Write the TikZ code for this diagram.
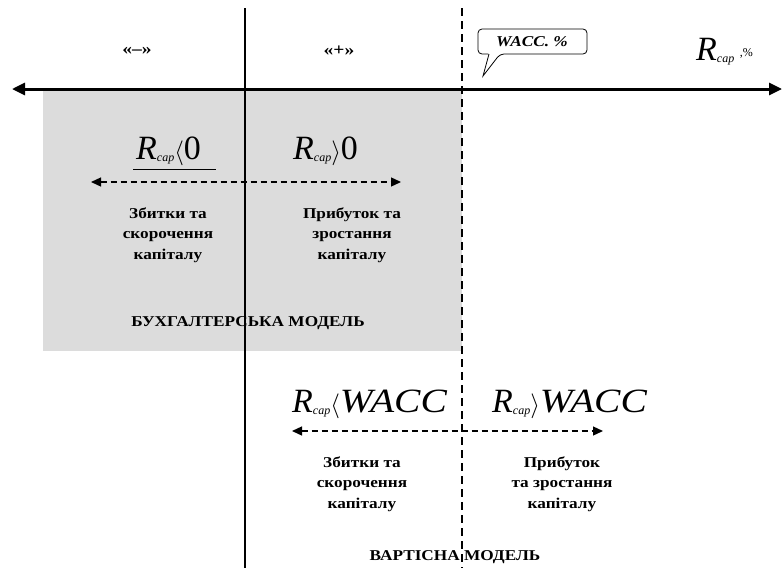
\documentclass[tikz,border=0pt]{standalone}
\usepackage{fontspec}
\usepackage{graphicx}
\setmainfont{Liberation Serif}
\newfontfamily\lblfont[FakeStretch=1.15]{Liberation Serif}
\usetikzlibrary{arrows.meta}
\newcommand\Rc{\textit{R}\raisebox{-2pt}{\fontsize{12}{12}\selectfont\textit{cap}}}
\newcommand\Wc{\scalebox{1.16}[1]{\textit{WACC}}}
\begin{document}
\begin{tikzpicture}[x=1pt,y=-1pt,
  lbl/.style={font=\fontsize{15}{20.5}\lblfont\bfseries, align=center, inner sep=0pt},
  sign/.style={font=\fontsize{17}{17}\lblfont\bfseries, inner sep=0pt},
  big/.style={font=\fontsize{34}{34}\selectfont, inner sep=0pt, anchor=base west},
  axis/.style={line width=3pt, {Triangle[length=13pt,width=12pt]}-{Triangle[length=13pt,width=12pt]}},
  darr/.style={line width=1.3pt, dash pattern=on 6pt off 4pt, {Triangle[length=10pt,width=9pt]}-{Triangle[length=10pt,width=9pt]}},
  vsolid/.style={line width=1.5pt},
  vdash/.style={line width=1.3pt, dash pattern=on 8pt off 5pt}]
\useasboundingbox (0,0) rectangle (782,568);
\fill[fill={rgb,255:red,220;green,220;blue,220}] (43,91) rectangle (462,351);
% vertical lines
\coordinate (vs1) at (245,8); \coordinate (vs2) at (245,568);
\coordinate (vd1) at (462,8); \coordinate (vd2) at (462,568);
\draw[vsolid] (vs1) -- (vs2);
\draw[vdash] (vd1) -- (vd2);
% axis
\coordinate (axL) at (12,89); \coordinate (axR) at (782,89);
\draw[axis] (axL) -- (axR);
% top labels
\node[sign] (minus) at (137,51) {«–»};
\node[sign] (plus) at (339,51) {«+»};
% callout
\draw[line width=0.8pt, rounded corners=4pt] (488,54) -- (478,54) -- (478,29) -- (587,29) -- (587,54) -- (500,54) [sharp corners] -- (483,76) -- (489,54);
\node[font=\fontsize{15}{15}\lblfont\bfseries\itshape] (wacc) at (532,42) {WACC. \%};
\node[big, font=\fontsize{34}{34}\selectfont] (rax) at (696,60) {\Rc\,\raisebox{4pt}{\fontsize{12}{12}\selectfont ,\%}};
% accounting model
\node[big] (rlt0) at (136,159) {\Rc$\langle$0};
\coordinate (ul1) at (133,169); \coordinate (ul2) at (216,169);
\draw[line width=0.8pt] (ul1) -- (ul2);
\node[big] (rgt0) at (293,159) {\Rc$\rangle$0};
\coordinate (a1L) at (91,182); \coordinate (a1R) at (401,182);
\draw[darr] (a1L) -- (a1R);
\node[lbl] (loss1) at (168,235) {Збитки та\\скорочення\\капіталу};
\node[lbl] (prof1) at (352,235) {Прибуток та\\зростання\\капіталу};
\node[lbl] (acc) at (248,323) {БУХГАЛТЕРСЬКА МОДЕЛЬ};
% value model
\node[big] (rltw) at (292,412) {\Rc$\langle$\Wc};
\node[big] (rgtw) at (492,412) {\Rc$\rangle$\Wc};
\coordinate (a2L) at (292,431); \coordinate (a2R) at (603,431);
\draw[darr] (a2L) -- (a2R);
\node[lbl] (loss2) at (362,484) {Збитки та\\скорочення\\капіталу};
\node[lbl] (prof2) at (562,484) {Прибуток\\та зростання\\капіталу};
\node[lbl] (val) at (455,557) {ВАРТІСНА МОДЕЛЬ};
\end{tikzpicture}
\end{document}
